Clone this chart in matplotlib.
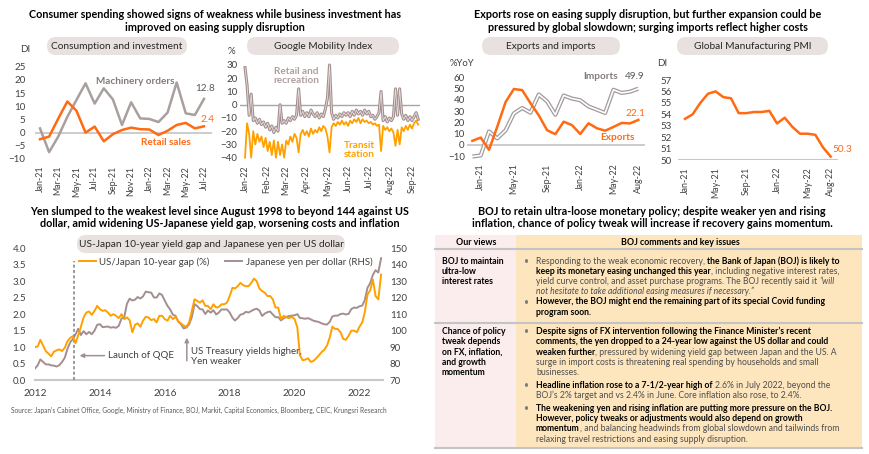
import numpy as np
import pandas as pd
import matplotlib
matplotlib.use('Agg')
import matplotlib.pyplot as plt
import matplotlib.dates as mdates
from matplotlib.patches import FancyBboxPatch, Rectangle

plt.rcParams['font.family'] = ['Lato', 'DejaVu Sans']

# ---------------- data ----------------
# Consumption and investment (DI), Jan-21 .. Jul-22
ci_months = ['Jan-21', 'Feb-21', 'Mar-21', 'Apr-21', 'May-21', 'Jun-21', 'Jul-21', 'Aug-21', 'Sep-21',
             'Oct-21', 'Nov-21', 'Dec-21', 'Jan-22', 'Feb-22', 'Mar-22', 'Apr-22', 'May-22', 'Jun-22', 'Jul-22']
machinery = [1.6, -7.4, -1.5, 6.0, 12.4, 18.7, 11.0, 16.8, 12.6, 2.9, 11.5, 5.4, 5.2, 4.0, 7.6, 19.0, 7.3, 6.7, 12.8]
retail = [-2.5, -1.5, 5.3, 11.8, 8.3, 0.0, 2.3, -3.3, -0.6, 1.0, 1.9, 1.3, 1.2, -0.9, 0.7, 2.9, 3.7, 1.6, 2.4]

# Google mobility (%), every 3 days from 1 Jan 2022
mob_dates = pd.date_range('2022-01-01', periods=85, freq='3D')
retail_rec = [28, 15, -8, 8, -12, -10, -14, -11, -15, -13,
              -17, -14, -19, -16, -21, -17, -20, 0, -14, -12,
              -14, -10, -12, -9, -11, -8, 12, -8, -5, -9,
              -6, -9, -4, -7, -9, -6, -10, -7, -9, -3,
              5, 30, -6, -11, -8, -10, -7, -9, -6, -8,
              -6, -9, -5, -8, -4, -7, -5, -8, -4, -7,
              -5, -9, -8, -11, -9, -6, 10, -12, -9, -13,
              -10, -12, -9, 12, -8, 12, -7, -11, -8, -12,
              -9, -12, -9, -6, -11]
transit = [-40, -14, -22, -40, -20, -30, -22, -28, -24, -32,
           -25, -35, -28, -38, -27, -40, -28, -38, -30, -40,
           -27, -30, -24, -28, -22, -25, -36, -22, -19, -23,
           -20, -24, -18, -22, -19, -21, -17, -20, -16, -18,
           -24, -36, -17, -14, -16, -13, -15, -12, -15, -13,
           -16, -12, -14, -11, -13, -10, -14, -11, -13, -12,
           -14, -13, -15, -14, -16, -15, -35, -16, -19, -17,
           -20, -18, -21, -31, -19, -30, -17, -20, -16, -19,
           -15, -18, -14, -12, -15]

# Exports and imports (%YoY), Dec-20 .. Aug-22
ex_months = ['Dec-20', 'Jan-21', 'Feb-21', 'Mar-21', 'Apr-21', 'May-21', 'Jun-21', 'Jul-21', 'Aug-21',
             'Sep-21', 'Oct-21', 'Nov-21', 'Dec-21', 'Jan-22', 'Feb-22', 'Mar-22', 'Apr-22', 'May-22',
             'Jun-22', 'Jul-22', 'Aug-22']
exports = [3.5, 6.4, -4.5, 16.1, 38.0, 49.6, 48.6, 37.0, 26.2, 13.0, 9.4, 20.5, 17.5, 9.6, 19.1, 14.7,
           12.5, 15.8, 19.4, 19.0, 22.1]
imports = [-10.5, -9.5, 11.8, 5.7, 12.8, 27.9, 32.7, 28.5, 44.7, 38.6, 26.7, 43.8, 41.1, 39.6, 34.1, 31.2,
           28.3, 48.9, 46.1, 47.2, 49.9]
ex_ticks = ['Jan-21', 'May-21', 'Sep-21', 'Jan-22', 'May-22', 'Aug-22']

# Global manufacturing PMI (DI), Jan-21 .. Aug-22
pmi_months = ex_months[1:]
pmi = [53.6, 54.0, 55.0, 55.8, 56.0, 55.5, 55.4, 54.1, 54.1, 54.2, 54.2, 54.3, 53.2, 53.7, 52.9, 52.3,
       52.3, 52.2, 51.1, 50.3]

# US-Japan 10y yield gap (%) and JPY per USD, monthly Jan 2012 .. Sep 2022
fx_dates = pd.date_range('2012-01-01', periods=129, freq='MS')
gap = [1.00, 1.02, 1.22, 1.05, 0.88, 0.80, 0.72, 0.86, 0.90, 0.93, 0.88, 0.98,
       1.18, 1.28, 1.33, 1.12, 1.35, 1.62, 1.90, 2.05, 2.08, 1.98, 2.10, 2.25,
       2.15, 2.10, 2.12, 2.05, 1.95, 2.00, 1.95, 1.88, 2.00, 1.85, 1.90, 1.82,
       1.45, 1.68, 1.72, 1.62, 1.80, 1.92, 1.90, 1.82, 1.85, 1.75, 1.95, 1.95,
       1.85, 1.80, 1.95, 1.85, 1.92, 1.78, 1.72, 1.65, 1.62, 1.75, 2.10, 2.45,
       2.40, 2.35, 2.42, 2.25, 2.25, 2.15, 2.30, 2.20, 2.22, 2.30, 2.30, 2.35,
       2.55, 2.80, 2.78, 2.85, 2.95, 2.88, 2.85, 2.85, 2.95, 3.08, 3.00, 2.78,
       2.70, 2.65, 2.55, 2.55, 2.45, 2.20, 2.20, 1.85, 1.95, 1.90, 1.88, 1.92,
       1.85, 1.60, 0.75, 0.60, 0.62, 0.66, 0.55, 0.58, 0.66, 0.75, 0.85, 0.92,
       1.05, 1.30, 1.62, 1.55, 1.55, 1.45, 1.25, 1.22, 1.35, 1.50, 1.50, 1.45,
       1.62, 1.75, 2.05, 2.60, 2.72, 3.05, 2.55, 2.45, 3.20]
yen = [77.0, 79.0, 82.5, 81.0, 79.5, 79.5, 78.9, 78.7, 78.2, 79.0, 81.0, 83.5,
       89.0, 93.0, 94.8, 97.7, 101.1, 97.3, 99.7, 97.8, 99.2, 97.8, 100.0, 103.5,
       103.9, 102.1, 102.3, 102.5, 101.8, 102.1, 101.7, 102.9, 107.4, 108.0, 116.3, 119.4,
       118.3, 118.8, 120.4, 119.5, 120.8, 123.7, 123.3, 123.1, 120.1, 120.1, 122.6, 121.6,
       118.2, 115.0, 112.9, 109.7, 109.0, 105.4, 103.9, 101.3, 101.9, 103.8, 108.3, 116.1,
       114.9, 113.0, 112.9, 110.1, 112.2, 110.9, 112.4, 109.8, 111.0, 112.9, 112.8, 112.9,
       110.9, 107.8, 106.1, 107.6, 109.7, 110.1, 111.4, 111.0, 111.9, 112.8, 113.3, 112.2,
       108.9, 110.4, 111.2, 111.6, 109.8, 108.1, 108.2, 106.2, 107.5, 108.3, 108.9, 109.1,
       109.3, 110.0, 107.7, 107.5, 107.2, 107.6, 106.8, 106.0, 105.6, 105.2, 104.4, 103.8,
       103.7, 105.4, 108.6, 109.1, 109.1, 110.1, 110.3, 109.8, 110.2, 113.1, 114.0, 113.8,
       114.8, 115.2, 118.5, 126.0, 128.8, 133.9, 136.7, 135.3, 144.0]
qqe_date = pd.Timestamp('2013-03-10')

# ---------------- styles ----------------
ORANGE = '#ff6a13'
LORANGE = '#ffa000'
GREY = '#a9a09e'
BROWN = '#a38f8f'
TXT = '#404040'
TICK = 7
W, H = 870, 454

fig = plt.figure(figsize=(W / 100, H / 100), dpi=100)
ov = fig.add_axes([0, 0, 1, 1])
ov.set_xlim(0, W)
ov.set_ylim(H, 0)
ov.axis('off')


def px_axes(xa, pa, xb, pb, xlim, ya, qa, yb, qb, ylim):
    # place an axes so that data values xa/xb, ya/yb land on pixel pa/pb, qa/qb
    sx = (pb - pa) / (xb - xa)
    l = pa + (xlim[0] - xa) * sx
    r = pa + (xlim[1] - xa) * sx
    sy = (qb - qa) / (yb - ya)
    top = qa + (ylim[1] - ya) * sy
    bot = qa + (ylim[0] - ya) * sy
    ax = fig.add_axes([l / W, 1 - bot / H, (r - l) / W, (bot - top) / H])
    ax.set_xlim(xlim)
    ax.set_ylim(ylim)
    ax.set_facecolor('none')
    for s in ax.spines.values():
        s.set_visible(False)
    ax.tick_params(length=0, labelsize=TICK, colors=TXT)
    return ax


def pill(x0, y0, x1, y1, label):
    ov.add_patch(FancyBboxPatch((x0, y0), x1 - x0, y1 - y0, boxstyle='round,pad=0,rounding_size=9',
                                fc='#e9e1e0', ec='none'))
    ov.text((x0 + x1) / 2, (y0 + y1) / 2 + 0.5, label, ha='center', va='center', fontsize=7.3, color='#262626')


def title(x, y, lines):
    for i, s in enumerate(lines):
        ov.text(x, y + i * 12.3, s, ha='center', va='center', fontsize=7.75, fontweight='bold', color='black')


# ---------------- titles and pills ----------------
title(215, 15, ['Consumer spending showed signs of weakness while business investment has',
                'improved on easing supply disruption'])
title(648, 15, ['Exports rose on easing supply disruption, but further expansion could be',
                'pressured by global slowdown; surging imports reflect higher costs'])
title(220, 211.5, ['Yen slumped to the weakest level since August 1998 to beyond 144 against US',
                   'dollar, amid widening US-Japanese yield gap, worsening costs and inflation'])
title(652, 211.5, ['BOJ to retain ultra-loose monetary policy; despite weaker yen and rising',
                   'inflation, chance of policy tweak will increase if recovery gains momentum.'])

pill(47, 37, 187, 55, 'Consumption and investment')
pill(247, 37, 399, 55, 'Google Mobility Index')
pill(482, 37, 620, 55, 'Exports and imports')
pill(677, 37, 828, 55, 'Global Manufacturing PMI')
pill(77, 235, 345, 253, 'US-Japan 10-year yield gap and Japanese yen per US dollar')

# ---------------- chart 1: consumption and investment ----------------
ax1 = px_axes(0, 40, 18, 204, (-0.6, 18.9), 25, 66.7, -10, 159, (-11, 26.5))
x1 = np.arange(len(ci_months))
ax1.axhline(0, color='#c8c8c8', lw=1.3, zorder=1)
ax1.plot(x1, machinery, color=GREY, lw=1.8, zorder=2)
ax1.plot(x1, retail, color=ORANGE, lw=1.8, zorder=3)
ax1.set_yticks(range(-10, 30, 5))
ax1.set_xticks(x1[::2])
ax1.set_xticklabels(ci_months[::2], rotation=90, fontsize=6.4)
ax1.tick_params(axis='x', pad=3)
ax1.tick_params(axis='y', pad=6.5)
ov.text(20, 49, 'DI', fontsize=7, color=TXT, ha='left', va='center')
ax1.text(10.4, 19.5, 'Machinery orders', color='#857a7a', fontsize=7.2, fontweight='bold', ha='center', va='center')
ax1.text(13.8, -3.9, 'Retail sales', color=ORANGE, fontsize=7.2, fontweight='bold', ha='center', va='center')
ax1.annotate(f'{machinery[-1]}', (x1[-1], machinery[-1]), xytext=(1, 10), textcoords='offset pixels',
             ha='center', va='center', fontsize=7.2, color='#595959')
ax1.annotate(f'{retail[-1]}', (x1[-1], retail[-1]), xytext=(3, 7), textcoords='offset pixels',
             ha='center', va='center', fontsize=7.2, color=ORANGE)

# ---------------- chart 2: google mobility ----------------
d0 = mdates.date2num(pd.Timestamp('2022-01-01'))
d1 = mdates.date2num(pd.Timestamp('2022-09-01'))
ax2 = px_axes(d0, 245, d1, 412, (d0 - 7, d1 + 12), 30, 65, -40, 157.7, (-41.5, 33))
ax2.axhline(0, color='#a6a6a6', lw=1.0, zorder=1)
ax2.plot(mob_dates, retail_rec, color=BROWN, lw=2.2, zorder=2)
ax2.plot(mob_dates, retail_rec, color='#e8dede', lw=0.6, zorder=2)
ax2.plot(mob_dates, transit, color=LORANGE, lw=1.3, zorder=3)
ax2.set_yticks(range(-40, 40, 10))
ax2.xaxis.set_major_locator(mdates.MonthLocator())
ax2.xaxis.set_major_formatter(mdates.DateFormatter('%b-%y'))
ax2.tick_params(axis='x', rotation=90, labelsize=6.4, pad=4)
ax2.tick_params(axis='y', pad=2)
ov.text(231, 51, '%', fontsize=7, color=TXT, ha='center', va='center')
ax2.text(mdates.date2num(pd.Timestamp('2022-03-16')), 22, 'Retail and\nrecreation', color='#b09e9e',
         fontsize=7.2, fontweight='bold', ha='center', va='center', linespacing=1.0)
ax2.text(mdates.date2num(pd.Timestamp('2022-06-16')), -34, 'Transit\nstation', color=LORANGE,
         fontsize=7.2, fontweight='bold', ha='center', va='center', linespacing=1.0)

# ---------------- chart 3: exports and imports ----------------
x3 = np.arange(len(ex_months))
ax3 = px_axes(1, 480.7, 20, 638.3, (-0.6, 20.8), 60, 77.3, -10, 156, (-13, 70))
ax3.axhline(0, color='#c8c8c8', lw=1.3, zorder=1)
ax3.plot(x3, imports, color='#a39b9b', lw=3.0, zorder=2, solid_capstyle='butt')
ax3.plot(x3, imports, color='white', lw=1.2, zorder=2)
ax3.plot(x3, exports, color=ORANGE, lw=1.8, zorder=3)
ax3.set_yticks(range(-10, 70, 10))
ax3.set_xticks([ex_months.index(m) for m in ex_ticks])
ax3.set_xticklabels(ex_ticks, rotation=90, fontsize=6.4)
ax3.tick_params(axis='x', pad=3)
ax3.tick_params(axis='y', pad=2)
ov.text(462, 63, '%YoY', fontsize=6.8, color=TXT, ha='center', va='center')
ax3.text(15.4, 60.8, 'Imports', color='#857a7a', fontsize=7.2, fontweight='bold', ha='center', va='center')
ax3.text(17.5, 6.2, 'Exports', color=ORANGE, fontsize=7.2, fontweight='bold', ha='center', va='center')
ax3.annotate(f'{imports[-1]}', (x3[-1], imports[-1]), xytext=(-4, 12), textcoords='offset pixels',
             ha='center', va='center', fontsize=7.2, color='#595959')
ax3.annotate(f'{exports[-1]}', (x3[-1], exports[-1]), xytext=(-3, 6), textcoords='offset pixels',
             ha='center', va='center', fontsize=7.2, color=ORANGE)

# ---------------- chart 4: global PMI ----------------
x4 = np.arange(len(pmi_months))
ax4 = px_axes(0, 685, 19, 830.7, (-0.9, 20.0), 57, 80, 50, 160, (50, 57.9))
ax4.axhline(50, color='#c8c8c8', lw=1.5, zorder=1)
ax4.plot(x4, pmi, color=ORANGE, lw=1.8, zorder=3)
ax4.set_yticks(range(50, 58))
ax4.set_xticks([pmi_months.index(m) for m in ex_ticks])
ax4.set_xticklabels(ex_ticks, rotation=90, fontsize=6.4)
ax4.tick_params(axis='x', pad=5)
ax4.tick_params(axis='y', pad=4.5)
ov.text(662, 64, 'DI', fontsize=7, color=TXT, ha='center', va='center')
ax4.annotate(f'{pmi[-1]}', (x4[-1], pmi[-1]), xytext=(2, 7), textcoords='offset pixels',
             ha='left', va='center', fontsize=7.2, color=ORANGE)

# ---------------- chart 5: yield gap and yen ----------------
t0 = mdates.date2num(pd.Timestamp('2012-01-01'))
t1 = mdates.date2num(pd.Timestamp('2022-01-01'))
ax5 = px_axes(t0, 35, t1, 359.5, (t0, mdates.date2num(pd.Timestamp('2022-09-20'))), 4, 248.3, 0, 380, (0, 4))
ax5b = ax5.twinx()
ax5b.set_ylim(70, 150)
for s in ax5b.spines.values():
    s.set_visible(False)
ax5.spines['bottom'].set_visible(True)
ax5.spines['bottom'].set_color('#c8c8c8')
ax5.spines['bottom'].set_linewidth(1.5)
ax5.set_yticks(np.arange(0, 4.5, 0.5))
ax5.yaxis.set_major_formatter(matplotlib.ticker.FormatStrFormatter('%.1f'))
ax5b.set_yticks(range(70, 160, 10))
ax5b.tick_params(length=0, labelsize=TICK, colors=TXT, pad=5)
ax5.xaxis.set_major_locator(mdates.YearLocator(2))
ax5.xaxis.set_major_formatter(mdates.DateFormatter('%Y'))
ax5.tick_params(axis='x', pad=6.5, labelsize=7.3)
ax5.tick_params(axis='y', pad=6.5)
l_yen, = ax5b.plot(fx_dates, yen, color=BROWN, lw=1.4, zorder=2)
l_gap, = ax5b.plot(fx_dates, [70 + g * 20 for g in gap], color=LORANGE, lw=1.4, zorder=3)
ax5b.vlines(qqe_date, 70, 70 + 3.6 * 20, colors='#7f7f7f', linestyles=(0, (2, 1.5)), lw=1.1)
ax5b.legend([l_gap, l_yen], ['US/Japan 10-year gap (%)', 'Japanese yen per dollar (RHS)'],
            loc='center left', bbox_to_anchor=(79 / W, 1 - 262 / H), bbox_transform=fig.transFigure,
            ncol=2, frameon=False, handlelength=1.75, handletextpad=0.35, columnspacing=1.6,
            borderpad=0, borderaxespad=0, prop={'size': 7})
for t in ax5b.get_legend().get_texts():
    t.set_color(TXT)
ax5b.annotate('', xy=(pd.Timestamp('2013-04-15'), 70 + 0.74 * 20), xytext=(pd.Timestamp('2014-03-25'), 70 + 0.74 * 20),
              arrowprops=dict(arrowstyle='-|>', color='#a09090', lw=1.1, mutation_scale=6))
ax5b.text(pd.Timestamp('2014-04-01'), 70 + 0.74 * 20, 'Launch of QQE', fontsize=7, color=TXT, ha='left', va='center')
ax5b.annotate('', xy=(pd.Timestamp('2016-09-05'), 70 + 1.37 * 20), xytext=(pd.Timestamp('2016-09-05'), 70 + 0.5 * 20),
              arrowprops=dict(arrowstyle='-|>', color='#a09090', lw=1.1, mutation_scale=6))
ax5b.text(pd.Timestamp('2016-10-22'), 70 + 0.71 * 20, 'US Treasury yields higher,\nYen weaker', fontsize=7,
          color=TXT, ha='left', va='center', linespacing=1.15)

ov.text(11, 410, 'Source: Japan\u2019s Cabinet Office, Google, Ministry of Finance, BOJ, Markit, Capital Economics, '
        'Bloomberg, CEIC, Krungsri Research', fontsize=4.8, color='#595959', ha='left', va='center')

# ---------------- table ----------------
ov.add_patch(Rectangle((435, 235), 81, 213, fc='#fbecee', ec='none'))
ov.add_patch(Rectangle((516, 235), 346, 213, fc='#fde5be', ec='none'))
for yl in (249.3, 322.8, 447.7):
    ov.plot([435, 862], [yl, yl], color='#c4c4c4', lw=1.5)
ov.text(476, 242.5, 'Our views', fontsize=6.4, fontweight='bold', ha='center', va='center', color='black')
ov.text(680, 242.5, 'BOJ comments and key issues', fontsize=6.4, fontweight='bold', ha='center', va='center',
        color='black')

TS = 6.22
renderer = fig.canvas.get_renderer()
STY = {'r': dict(color='#4d4d4d'), 'b': dict(color='black', fontweight='bold'),
       'i': dict(color='#4d4d4d', fontstyle='italic')}


def text_w(s, kw):
    t1 = ov.text(0, 0, '|' + s + '|', fontsize=TS, **kw)
    t2 = ov.text(0, 0, '||', fontsize=TS, **kw)
    w = t1.get_window_extent(renderer).width - t2.get_window_extent(renderer).width
    t1.remove()
    t2.remove()
    return w


def rich(x, y, parts, bullet=False):
    if bullet:
        ov.text(525.7, y + 2.6, '\u2022', fontsize=TS, color='#7f7f7f', ha='center', va='baseline')
    for s, st in parts:
        ov.text(x, y + 2.6, s, fontsize=TS, ha='left', va='baseline', **STY[st])
        x += text_w(s, STY[st])


left1 = ['BOJ to maintain', 'ultra-low', 'interest rates']
for i, s in enumerate(left1):
    rich(442, 261 + i * 10.2, [(s, 'b')])
left2 = ['Chance of policy', 'tweak depends', 'on FX, inflation,', 'and growth', 'momentum']
for i, s in enumerate(left2):
    rich(442, 331.7 + i * 10.2, [(s, 'b')])

right_lines = [
    (261.0, True, [('Responding to the weak economic recovery, ', 'r'), ('the Bank of Japan (BOJ) is likely to', 'b')]),
    (271.2, False, [('keep its monetary easing unchanged this year', 'b'), (', including negative interest rates,', 'r')]),
    (281.4, False, [('yield curve control, and asset purchase programs. The BOJ recently said it ', 'r'), ('\u201cwill', 'i')]),
    (291.4, False, [('not hesitate to take additional easing measures if necessary.\u201d', 'i')]),
    (301.9, True, [('However, the BOJ might end the remaining part of its special Covid funding', 'b')]),
    (312.1, False, [('program soon.', 'b')]),
    (331.7, True, [('Despite signs of FX intervention following the Finance Minister\u2019s recent', 'b')]),
    (341.9, False, [('comments, the yen dropped to a 24-year low against the US dollar and could', 'b')]),
    (352.1, False, [('weaken further', 'b'), (', pressured by widening yield gap between Japan and the US. A', 'r')]),
    (362.3, False, [('surge in import costs is threatening real spending by households and small', 'r')]),
    (372.3, False, [('businesses.', 'r')]),
    (385.0, True, [('Headline inflation rose to a 7-1/2-year high of ', 'b'), ('2.6% in July 2022, beyond the', 'r')]),
    (395.2, False, [('BOJ\u2019s 2% target and vs 2.4% in June. Core inflation also rose, to 2.4%.', 'r')]),
    (408.3, True, [('The weakening yen and rising inflation are putting more pressure on the BOJ.', 'b')]),
    (418.6, False, [('However, policy tweaks or adjustments would also depend on growth', 'b')]),
    (428.8, False, [('momentum', 'b'), (', and balancing headwinds from global slowdown and tailwinds from', 'r')]),
    (439.0, False, [('relaxing travel restrictions and easing supply disruption.', 'r')]),
]
for y, b, parts in right_lines:
    rich(536, y, parts, bullet=b)

fig.savefig('out.png', dpi=100, facecolor='white')
